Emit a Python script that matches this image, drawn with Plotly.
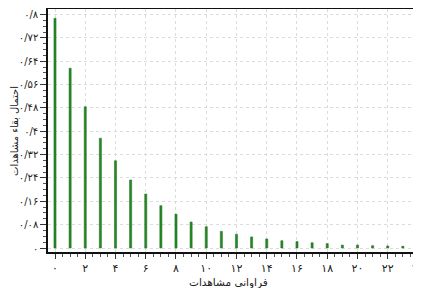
import plotly.graph_objects as go

counts = list(range(25))
probs = [0.787, 0.616, 0.484, 0.376, 0.299, 0.233, 0.185, 0.145, 0.116, 0.089,
         0.073, 0.057, 0.047, 0.038, 0.031, 0.025, 0.022, 0.018, 0.015, 0.010,
         0.010, 0.008, 0.007, 0.006, 0.005]

x_tickvals = list(range(0, 25, 2))
x_ticktext = ["۰", "۲", "۴", "۶", "۸", "۱۰", "۱۲", "۱۴", "۱۶", "۱۸", "۲۰", "۲۲", "۲۴"]
y_tickvals = [0, 0.08, 0.16, 0.24, 0.32, 0.4, 0.48, 0.56, 0.64, 0.72, 0.8]
y_ticktext = ["۰", "۰/۰۸", "۰/۱۶", "۰/۲۴", "۰/۳۲", "۰/۴", "۰/۴۸", "۰/۵۶", "۰/۶۴", "۰/۷۲", "۰/۸"]

x_title = "فراوانی مشاهدات"
y_title = "احتمال بقاء مشاهدات"

fig = go.Figure()
fig.add_trace(go.Bar(
    x=counts, y=probs, width=0.14,
    marker=dict(color="#238a23", line=dict(color="#1a6a1a", width=0.5)),
))

font = dict(family="DejaVu Sans, Noto Sans, sans-serif", size=10, color="#222")

# page body has an 8px margin, so the figure is sized to the visible area
fig.update_layout(
    width=413, height=280,
    margin=dict(l=40, r=0, t=1, b=36, autoexpand=False),
    paper_bgcolor="white", plot_bgcolor="white",
    showlegend=False, font=font,
    xaxis=dict(
        range=[-0.463, 24.2], tickvals=x_tickvals, ticktext=x_ticktext,
        showline=True, linecolor="#111", linewidth=1.5, mirror=True,
        ticks="outside", ticklen=5, tickcolor="#333",
        minor=dict(dtick=0.5, ticks="outside", ticklen=3, tickcolor="#555", showgrid=False),
        showgrid=True, gridcolor="#dcdcdc", griddash="dot", gridwidth=1,
        zeroline=False, automargin=False, ticklabeloverflow="allow",
        tickfont=dict(size=11),
    ),
    yaxis=dict(
        range=[-0.0137, 0.819], tickvals=y_tickvals, ticktext=y_ticktext,
        showline=True, linecolor="#111", linewidth=1.5,
        ticks="outside", ticklen=6, tickcolor="#333",
        minor=dict(dtick=0.02, tick0=0, ticks="outside", ticklen=3, tickcolor="#555", showgrid=False),
        showgrid=True, gridcolor="#dcdcdc", griddash="dot", gridwidth=1,
        zeroline=False, automargin=False,
        tickfont=dict(size=10),
    ),
    annotations=[
        dict(text=x_title, xref="paper", yref="paper", x=0.4826, y=-0.1235,
             showarrow=False, font=dict(size=10.5), xanchor="center", yanchor="middle"),
        dict(text=y_title, xref="paper", yref="paper", x=-0.0885, y=0.498,
             showarrow=False, font=dict(size=10), textangle=-90,
             xanchor="center", yanchor="middle"),
    ],
)

fig.write_html("out.html")
